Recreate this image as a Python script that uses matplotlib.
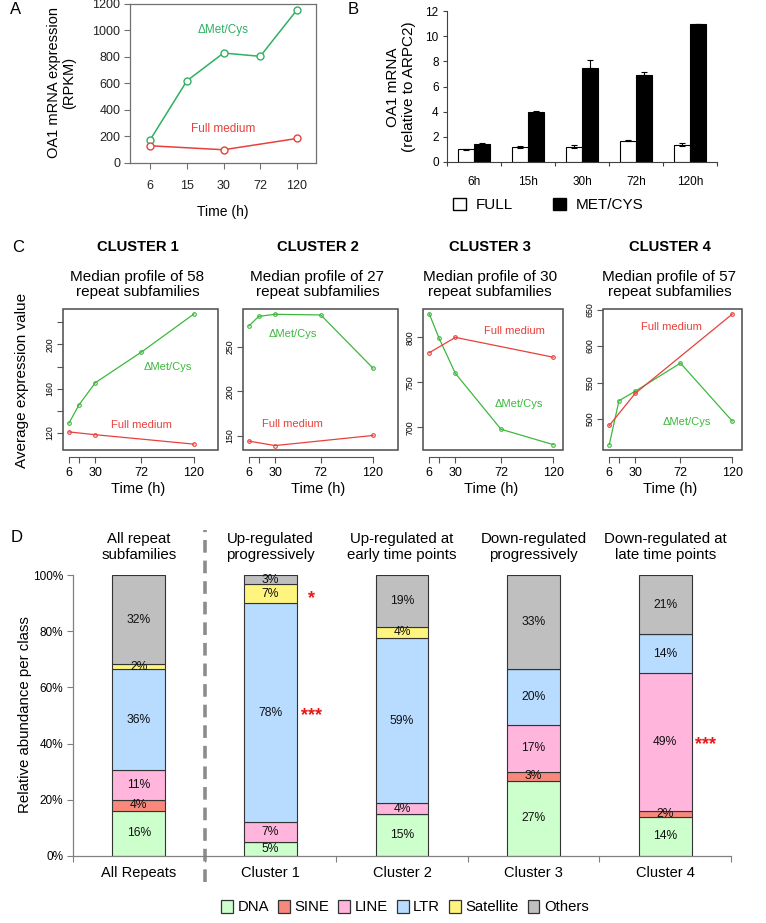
import matplotlib
matplotlib.use('Agg')
import matplotlib.pyplot as plt
import numpy as np
from matplotlib.patches import Rectangle, Patch
import matplotlib.transforms as mtransforms

plt.rcParams['font.family'] = ['Liberation Sans', 'DejaVu Sans']

# ---------------- Data ----------------
# Panel A
a_times = ['6', '15', '30', '72', '120']
a_met = [175, 620, 830, 805, 1155]
a_full_times = ['6', '30', '120']
a_full = [130, 100, 185]

# Panel B
b_labels = ['6h', '15h', '30h', '72h', '120h']
b_full = [1.0, 1.2, 1.2, 1.7, 1.38]
b_full_err = [0.03, 0.05, 0.12, 0.06, 0.1]
b_met = [1.44, 3.97, 7.47, 6.93, 10.96]
b_met_err = [0.1, 0.1, 0.64, 0.24, 0.03]

# Panel C
c_times = [6, 15, 30, 72, 120]
c_full_times = [6, 30, 120]
c_xticks = [6, 15, 30, 72, 120]
c_xticklabels = ['6', '', '30', '72', '120']
c_titles = ['CLUSTER 1', 'CLUSTER 2', 'CLUSTER 3', 'CLUSTER 4']
c_n = [58, 27, 30, 57]
c_met = [
    [129, 145.3, 165.4, 193, 227.4],
    [274, 284.7, 287, 286.3, 226.3],
    [826, 799, 760, 698, 681],
    [464.7, 525, 538, 576.6, 497],
]
c_full = [
    [121, 118.5, 110],
    [144, 139, 150.4],
    [783, 800, 778],
    [491, 535, 644],
]
c_ylims = [(104.7, 231.9), (134, 293), (675, 831.5), (457.3, 651)]
c_yticks = [[120, 140, 160, 180, 200, 220], [150, 200, 250], [700, 750, 800], [500, 550, 600, 650]]
c_yticklabels = [['120', '', '160', '', '200', ''], ['150', '200', '250'], ['700', '750', '800'],
                 ['500', '550', '600', '650']]
c_xlims = [(0.5, 142), (0.5, 143), (0.2, 129), (0.2, 129)]

# Panel D
d_cats = ['All Repeats', 'Cluster 1', 'Cluster 2', 'Cluster 3', 'Cluster 4']
d_titles = ['All repeat\nsubfamilies', 'Up-regulated\nprogressively', 'Up-regulated at\nearly time points',
            'Down-regulated\nprogressively', 'Down-regulated at\nlate time points']
d_classes = ['DNA', 'SINE', 'LINE', 'LTR', 'Satellite', 'Others']
d_dna = [16.1, 5.1, 14.8, 26.7, 14.0]
d_sine = [3.8, 0.0, 0.0, 3.3, 1.9]
d_line = [10.6, 6.9, 3.9, 16.6, 49.1]
d_ltr = [35.9, 77.9, 59.0, 19.9, 13.9]
d_sat = [1.8, 6.8, 3.8, 0.0, 0.0]
d_oth = [31.8, 3.3, 18.6, 33.4, 21.1]
d_colors = ['#ccffcc', '#f8877c', '#ffb5dc', '#b7dcff', '#fff47e', '#bfbfbf']
d_star_cat = ['Cluster 1', 'Cluster 1', 'Cluster 4']
d_star_y = [91.5, 50, 39.5]
d_star_txt = ['*', '***', '***']

# ---------------- Figure ----------------
W, H = 766, 923
fig = plt.figure(figsize=(W / 100, H / 100), dpi=100)


def ax_px(l, t, r, b):
    return fig.add_axes([l / W, 1 - b / H, (r - l) / W, (b - t) / H])


def ftext(x, y, s, **kw):
    return fig.text(x / W, 1 - y / H, s, **kw)


GREEN_A = '#2fb062'
RED = '#e8403c'
GREEN_C = '#3db83d'

# ---------- Panel A ----------
axA = ax_px(130, 4, 316, 163)
xa = np.arange(len(a_times))
axA.plot(xa, a_met, color=GREEN_A, lw=1.1, marker='o', ms=5, mfc='white', mec=GREEN_A, mew=1)
xf = [a_times.index(t) for t in a_full_times]
axA.plot(xf, a_full, color=RED, lw=1.1, marker='o', ms=5, mfc='white', mec=RED, mew=1)
axA.set_xlim(-0.55, 4.52)
axA.set_ylim(0, 1200)
axA.set_yticks(np.arange(0, 1201, 200))
axA.set_xticks(xa)
axA.set_xticklabels(a_times)
axA.tick_params(labelsize=9, length=4, width=0.8, direction='out')
for s in axA.spines.values():
    s.set_color('#707070')
    s.set_linewidth(0.9)
axA.tick_params(axis='x', colors='#707070', labelcolor='#222222', pad=8)
axA.tick_params(axis='y', colors='#707070', labelcolor='#222222', pad=3)
axA.text(2, 1000, '\u0394Met/Cys', color=GREEN_A, fontsize=8.5, ha='center', va='center')
axA.text(2, 255, 'Full medium', color=RED, fontsize=8.5, ha='center', va='center')
ftext(62, 83, 'OA1 mRNA expression\n(RPKM)', rotation=90, ha='center', va='center', fontsize=10.5,
      linespacing=1.1)
ftext(223, 212, 'Time (h)', ha='center', va='center', fontsize=10)
ftext(16, 10, 'A', ha='center', va='center', fontsize=12)

# ---------- Panel B ----------
axB = ax_px(447, 11, 717, 162)
xb = np.arange(len(b_labels))
bw = 0.29
axB.bar(xb - bw / 2, b_full, bw, color='white', edgecolor='black', lw=0.8,
        yerr=b_full_err, error_kw=dict(ecolor='black', elinewidth=0.8, capsize=2, capthick=0.8))
axB.bar(xb + bw / 2, b_met, bw, color='black', edgecolor='black', lw=0.8,
        yerr=[np.zeros(len(b_met)), b_met_err],
        error_kw=dict(ecolor='black', elinewidth=0.8, capsize=2, capthick=0.8))
axB.set_xlim(-0.5, 4.5)
axB.set_ylim(0, 12)
axB.set_yticks(np.arange(0, 13, 2))
axB.set_xticks(np.arange(-0.5, 5, 1))
axB.set_xticklabels([])
axB.set_xticks(xb, minor=True)
axB.set_xticklabels(b_labels, minor=True)
axB.tick_params(axis='x', which='minor', length=0, labelsize=8.5, pad=10)
axB.tick_params(axis='x', which='major', length=3, width=0.8, color='#404040')
axB.tick_params(axis='y', labelsize=8.5, length=3, width=0.8, color='#404040', pad=3)
for s in ['top', 'right']:
    axB.spines[s].set_visible(False)
for s in ['left', 'bottom']:
    axB.spines[s].set_color('#404040')
    axB.spines[s].set_linewidth(0.8)
ftext(401, 87, 'OA1 mRNA\n(relative to ARPC2)', rotation=90, ha='center', va='center', fontsize=11,
      linespacing=1.1)
hB = [Patch(facecolor='white', edgecolor='black', lw=1), Patch(facecolor='black', edgecolor='black', lw=1)]
fig.legend(hB, ['FULL', 'MET/CYS'], loc='center', bbox_to_anchor=(548 / W, 1 - 205 / H), ncol=2,
           frameon=False, fontsize=11, handlelength=0.9, handleheight=0.9, handletextpad=0.6,
           columnspacing=2.6)
ftext(353, 10, 'B', ha='center', va='center', fontsize=12)

# ---------- Panel C ----------
c_boxes = [(63, 218), (243, 398), (423, 563), (603, 742)]
c_top, c_bot = 309, 450
c_text_pos = [((96, 180), (71.7, 127)), ((46, 265), (46, 163)), ((88.5, 726), (84, 807)),
              ((78, 496), (64, 626))]
for i in range(4):
    l, r = c_boxes[i]
    ax = ax_px(l, c_top, r, c_bot)
    ax.plot(c_times, c_met[i], color=GREEN_C, lw=0.9, marker='o', ms=2.6, mfc='none', mec=GREEN_C, mew=0.8)
    ax.plot(c_full_times, c_full[i], color=RED, lw=0.9, marker='o', ms=2.6, mfc='none', mec=RED, mew=0.8)
    ax.set_xlim(*c_xlims[i])
    ax.set_ylim(*c_ylims[i])
    ax.set_xticks(c_xticks)
    ax.set_xticklabels(c_xticklabels)
    ax.set_yticks(c_yticks[i])
    ax.set_yticklabels(c_yticklabels[i], rotation=90, va='center')
    for s in ['top', 'right', 'left']:
        ax.spines[s].set_visible(False)
    ax.spines['bottom'].set_position(('outward', 5))
    ax.spines['bottom'].set_bounds(6, 120)
    ax.spines['bottom'].set_color('#555555')
    ax.spines['bottom'].set_linewidth(0.8)
    ax.add_patch(Rectangle((0, 0), 1, 1, transform=ax.transAxes, fill=False, ec='#4a4a4a', lw=1.1,
                           clip_on=False))
    ax.tick_params(axis='x', labelsize=9, length=4, width=0.8, color='#555555', pad=3)
    ax.tick_params(axis='y', labelsize=6.3, length=4, width=0.8, color='#555555', pad=2)
    (mx, my), (fx, fy) = c_text_pos[i]
    ax.text(mx, my, '\u0394Met/Cys', color=GREEN_C, fontsize=8, ha='center', va='center')
    ax.text(fx, fy, 'Full medium', color=RED, fontsize=8, ha='center', va='center')
    cx = (l + r) / 2
    ftext(cx - 3, 247, c_titles[i], ha='center', va='center', fontsize=10.6, fontweight='bold')
    ftext(cx - 3, 284.5, 'Median profile of %d\nrepeat subfamilies' % c_n[i], ha='center', va='center',
          fontsize=11, linespacing=1.18)
    ftext(cx - 2, 489, 'Time (h)', ha='center', va='center', fontsize=10.5)
ftext(22, 380, 'Average expression value', rotation=90, ha='center', va='center', fontsize=11)
ftext(18, 248, 'C', ha='center', va='center', fontsize=12)

# ---------- Panel D ----------
axD = ax_px(73, 575, 731, 856)
xd = np.arange(len(d_cats))
dw = 0.40
series = [d_dna, d_sine, d_line, d_ltr, d_sat, d_oth]
bottom = np.zeros(len(d_cats))
for vals, col in zip(series, d_colors):
    vals = np.array(vals)
    axD.bar(xd, vals, dw, bottom=bottom, color=col, edgecolor='#333333', lw=0.8)
    for j, v in enumerate(vals):
        if v > 0:
            axD.text(xd[j], bottom[j] + v / 2, '%.0f%%' % v, ha='center', va='center', fontsize=8.7,
                     color='#111111')
    bottom = bottom + vals
for c, yv, t in zip(d_star_cat, d_star_y, d_star_txt):
    axD.text(d_cats.index(c) + 0.31, yv, t, color='#e81818', fontsize=13, fontweight='bold',
             ha='center', va='center')
axD.set_xlim(-0.5, 4.5)
axD.set_ylim(0, 100)
axD.set_yticks(np.arange(0, 101, 20))
axD.set_yticklabels(['%d%%' % v for v in np.arange(0, 101, 20)])
axD.set_xticks(np.arange(-0.5, 5, 1))
axD.set_xticklabels([])
axD.set_xticks(xd, minor=True)
axD.set_xticklabels(d_cats, minor=True)
axD.tick_params(axis='x', which='minor', length=0, labelsize=10.5, pad=7)
axD.tick_params(axis='x', which='major', length=4, width=0.8, color='#808080')
axD.tick_params(axis='y', labelsize=8.5, length=4, width=0.8, color='#808080', pad=3)
for s in ['top', 'right']:
    axD.spines[s].set_visible(False)
for s in ['left', 'bottom']:
    axD.spines[s].set_color('#808080')
    axD.spines[s].set_linewidth(0.9)
trans = mtransforms.blended_transform_factory(axD.transData, axD.transAxes)
axD.plot([0.5, 0.5], [-0.093, 1.16], transform=trans, clip_on=False, color='#8c8c8c', lw=2.6,
         dashes=(3.5, 2.2))
for j, t in enumerate(d_titles):
    axD.text(xd[j], 1.10, t, transform=trans, ha='center', va='center', fontsize=10.8, linespacing=1.2)
ftext(25, 715, 'Relative abundance per class', rotation=90, ha='center', va='center', fontsize=10.8)
hD = [Patch(facecolor=c, edgecolor='#333333', lw=0.9) for c in d_colors]
fig.legend(hD, d_classes, loc='center', bbox_to_anchor=(405 / W, 1 - 907 / H), ncol=6, frameon=False,
           fontsize=10.7, handlelength=0.8, handleheight=1.0, handletextpad=0.3, columnspacing=0.6)
ftext(17, 538, 'D', ha='center', va='center', fontsize=12)

fig.savefig('out.png', dpi=100)
